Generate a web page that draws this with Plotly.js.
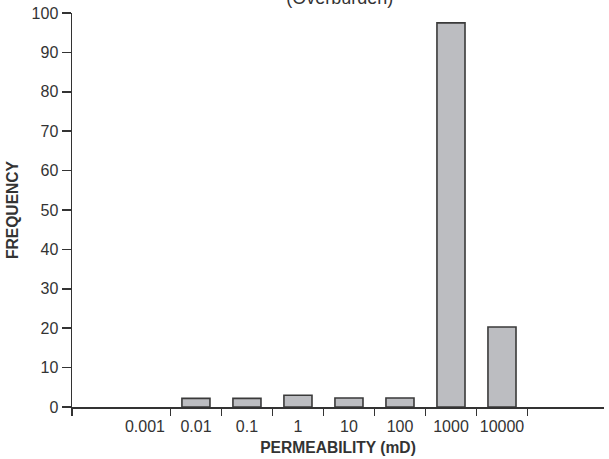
<!DOCTYPE html>
<html>
<head>
<meta charset="utf-8">
<script src="https://cdn.plot.ly/plotly-3.0.1.min.js"></script>
<style>html,body{margin:0;padding:0;background:#fff;}#chart{width:609px;height:459px;}</style>
</head>
<body>
<div id="chart"></div>
<script>
var categories = ["0.001", "0.01", "0.1", "1", "10", "100", "1000", "10000"];
var frequency = [0, 2.2, 2.2, 3.0, 2.3, 2.3, 97.5, 20.3];
var yTicks = [0, 10, 20, 30, 40, 50, 60, 70, 80, 90, 100];
var boundaryTicks = [-1.43, 0.5, 1.5, 2.5, 3.5, 4.5, 5.5, 6.5, 7.5];

var ink = "#333333";
var narrow = "Liberation Sans Narrow, Arial Narrow, sans-serif";
var sans = "Liberation Sans, Arial, Helvetica, sans-serif";

var outlineWidths = frequency.map(function (v) { return v > 0 ? 1.6 : 0; });

var traces = [{
  type: "bar",
  x: categories,
  y: frequency,
  width: 0.55,
  marker: {color: "#bcbdc1", line: {color: "#3a3a3a", width: outlineWidths}},
  hoverinfo: "x+y"
}, {
  type: "scatter", x: [0], y: [0], xaxis: "x2", mode: "markers",
  marker: {opacity: 0}, hoverinfo: "skip"
}];

var layout = {
  width: 609, height: 459,
  margin: {l: 72, r: 5, t: 13, b: 52},
  paper_bgcolor: "#ffffff",
  plot_bgcolor: "#ffffff",
  showlegend: false,
  title: {
    text: "(Overburden)",
    font: {family: sans, size: 18, color: ink},
    x: 0.558, xanchor: "center",
    yref: "container", y: 0.991, yanchor: "bottom"
  },
  xaxis: {
    type: "category",
    range: [-1.43, 9.0],
    showline: true, linecolor: ink, linewidth: 1.5,
    showgrid: false, zeroline: false,
    ticks: "outside", ticklen: 4, tickcolor: "rgba(0,0,0,0)",
    tickfont: {family: narrow, size: 16, color: ink},
    title: {text: "<b>PERMEABILITY (mD)</b>", font: {family: sans, size: 15.6, color: ink}, standoff: 8},
    fixedrange: true
  },
  xaxis2: {
    overlaying: "x",
    anchor: "y",
    side: "bottom",
    range: [-1.43, 9.0],
    tickmode: "array",
    tickvals: boundaryTicks,
    showticklabels: false,
    ticks: "outside", ticklen: 8, tickwidth: 1.5, tickcolor: ink,
    showline: false, showgrid: false, zeroline: false,
    fixedrange: true
  },
  yaxis: {
    range: [0, 100],
    tickmode: "array",
    tickvals: yTicks,
    showline: true, linecolor: ink, linewidth: 1.5,
    showgrid: false, zeroline: false,
    ticks: "outside", ticklen: 9, tickwidth: 1.5, tickcolor: ink,
    tickfont: {family: narrow, size: 16, color: ink},
    title: {text: "<b>FREQUENCY</b>", font: {family: sans, size: 15.6, color: ink}, standoff: 9},
    fixedrange: true
  }
};

Plotly.newPlot("chart", traces, layout, {displayModeBar: false, staticPlot: true});
</script>
</body>
</html>
